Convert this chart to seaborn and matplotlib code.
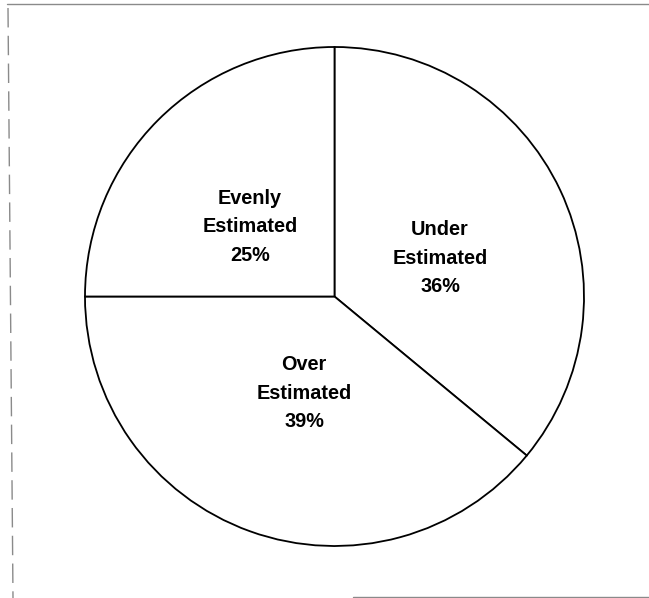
import matplotlib
matplotlib.use("Agg")
import matplotlib.pyplot as plt
from matplotlib.lines import Line2D
import seaborn as sns

categories = ["Under\nEstimated", "Over\nEstimated", "Evenly\nEstimated"]
shares = [36, 39, 25]

sns.set_theme(style="white")
plt.rcParams["font.family"] = ["Liberation Sans", "DejaVu Sans"]

W, H = 649, 598
fig = plt.figure(figsize=(W / 100, H / 100), dpi=100)
fig.patch.set_facecolor("white")

# circle: centre (334.5, 296.5) px, radius 249.5 px
cx, cy, r = 334.5, 296.5, 249.5
ax = fig.add_axes([(cx - r) / W, (H - cy - r) / H, 2 * r / W, 2 * r / H])

labels_iter = iter(categories)


def fmt(pct):
    return f"{next(labels_iter)}\n{pct:.0f}%"


wedges, texts, autotexts = ax.pie(
    shares,
    startangle=90,
    counterclock=False,
    colors=["white"] * len(shares),
    wedgeprops=dict(edgecolor="black", linewidth=1.3),
    autopct=fmt,
    pctdistance=0.44,
    radius=1.0,
)

# label anchors inside each wedge (axes data units)
label_xy = [(0.423, 0.154), (-0.122, -0.387), (-0.339, 0.279)]
for t, xy in zip(autotexts, label_xy):
    t.set_position(xy)
    t.set_fontsize(14.3)
    t.set_fontweight("bold")
    t.set_color("black")
    t.set_linespacing(1.63)
    t.set_ha("center")
    t.set_va("center")

ax.set_xlim(-1, 1)
ax.set_ylim(-1, 1)
ax.set_aspect("equal")
ax.axis("off")

# faint outer frame
gray = "#8a8a8a"
fig.add_artist(Line2D([7 / W, 1], [1 - 3.5 / H, 1 - 3.5 / H], color=gray, lw=1.0, transform=fig.transFigure))
fig.add_artist(Line2D([8 / W, 13 / W], [1 - 8 / H, 0], color=gray, lw=1.0, ls=(0, (14, 6)), transform=fig.transFigure))
fig.add_artist(Line2D([353 / W, 1], [1 - 597 / H, 1 - 597 / H], color=gray, lw=1.0, transform=fig.transFigure))

fig.savefig("out.png", dpi=100, facecolor="white")
